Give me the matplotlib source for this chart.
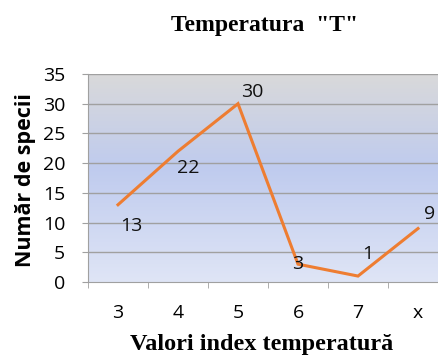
import matplotlib
matplotlib.use('Agg')
import matplotlib.pyplot as plt
import numpy as np
from matplotlib.colors import LinearSegmentedColormap

categories = ['3', '4', '5', '6', '7', 'x']
species = [13, 22, 30, 3, 1, 9]
yticks = [0, 5, 10, 15, 20, 25, 30, 35]

# label offsets in pixels (dx, dy), Excel-like placement
label_off = [(13, -21), (10, -17), (14, 12), (0, 0), (10, 22), (12, 15)]

fig = plt.figure(figsize=(4.38, 3.56), dpi=100)
ax = fig.add_axes([88/438, 74/356, 360/438, 208/356])

x = np.arange(len(categories))
ax.set_xlim(-0.5, len(categories) - 0.5)
ax.set_ylim(0, 35)

# gradient background: gray top -> blue -> pale blue bottom
cmap = LinearSegmentedColormap.from_list('bg', [(0.0, '#dfe5f6'), (0.55, '#bfcbee'), (1.0, '#d9d9da')])
grad = np.linspace(0, 1, 256).reshape(-1, 1)
ax.imshow(grad, extent=[-0.5, len(categories) - 0.5, 0, 35], origin='lower',
          cmap=cmap, aspect='auto', zorder=0)

for yv in yticks[1:]:
    ax.axhline(yv, color='#a0a0a0', lw=1.0, zorder=1)

ax.plot(x, species, color='#ee7d31', lw=2.2, zorder=3, solid_joinstyle='miter')

for xi, v, (dx, dy) in zip(x, species, label_off):
    ax.annotate(str(v), (xi, v), xytext=(dx, dy), textcoords='offset pixels',
                ha='center', va='center', fontsize=14, family='Open Sans',
                color='#111111', zorder=4)

ax.set_yticks(yticks)
ax.set_yticklabels([str(t) for t in yticks], family='Open Sans', fontsize=14)
ax.set_xticks(x)
ax.set_xticklabels(categories, family='Open Sans', fontsize=14)
ax.set_xticks(np.arange(len(categories) + 1) - 0.5, minor=True)
ax.tick_params(axis='x', which='major', length=0, pad=16)
ax.tick_params(axis='x', which='minor', length=4.5, color='#a0a0a0', direction='out')
ax.tick_params(axis='y', length=4.5, color='#a0a0a0', direction='out', pad=12)

for s in ['top', 'right']:
    ax.spines[s].set_visible(False)
ax.spines['left'].set_color('#a0a0a0')
ax.spines['bottom'].set_color('#a0a0a0')

ax.set_ylabel('Număr de specii', family='Open Sans', fontweight='bold', fontsize=15.5)
ax.yaxis.set_label_coords(-0.175, 0.49)
ax.yaxis.label.set_va('center')
ax.set_xlabel('Valori index temperatură', family='Liberation Serif', fontweight='bold', fontsize=17.5)
ax.xaxis.set_label_coords(0.483, -0.3)
ax.xaxis.label.set_va('center')

fig.text(265/438, 1 - 25/356, 'Temperatura  "T"', family='Liberation Serif', fontweight='bold',
         fontsize=17, ha='center', va='center')

fig.savefig('out.png', dpi=100)
